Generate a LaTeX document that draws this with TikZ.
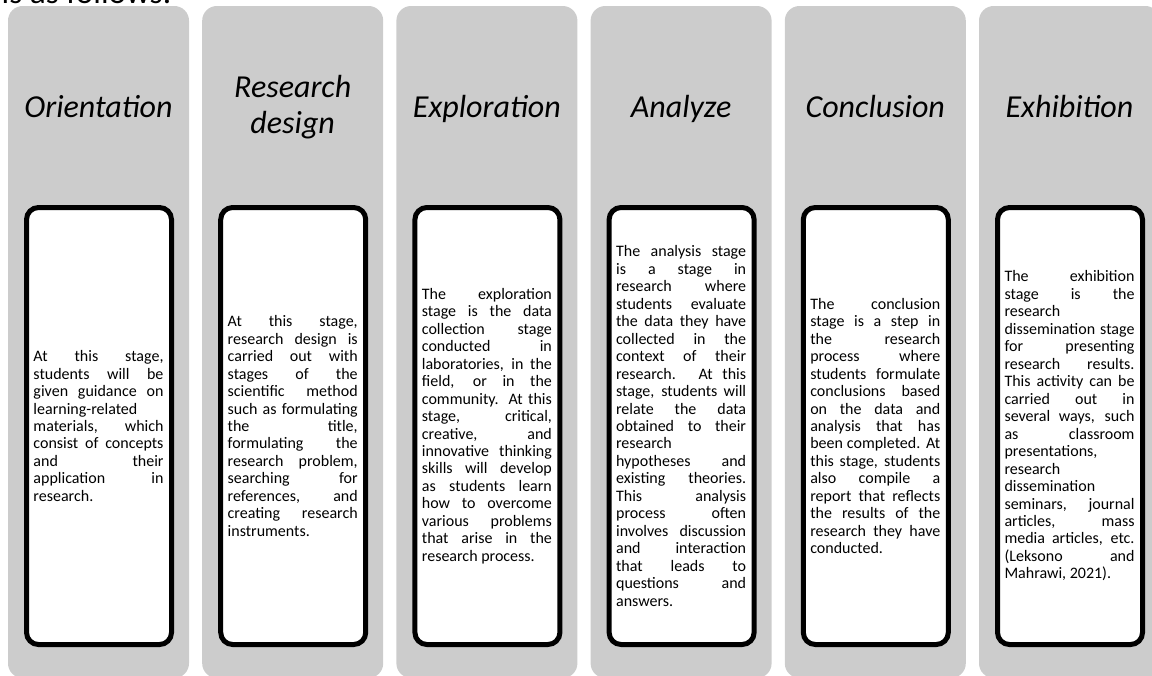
\documentclass[tikz,border=0pt]{standalone}
\usepackage{fontspec}
\setmainfont{Carlito}
\definecolor{stagegray}{HTML}{CCCCCC}

\begin{document}
\begin{tikzpicture}[x=0.75pt,y=-0.75pt,
    stagebox/.style={fill=stagegray, rounded corners=11pt},
    card/.style={draw=black, fill=white, line width=3.75pt, rounded corners=9pt},
    stagetitle/.style={font=\fontsize{24}{26.5}\selectfont\itshape, align=center, inner sep=0pt},
    stagetext/.style={font=\fontsize{12}{13.1}\selectfont, text width=97.5pt, align=justify, inner sep=0pt,
        execute at begin node={\hyphenpenalty=10000 \exhyphenpenalty=10000 \tolerance=10000 \hbadness=10000 }}]
        \useasboundingbox (0,0) rectangle (1152,675);
        %%%COLUMNS%%%
        \foreach \i in {0,...,5}{
            \fill[stagebox] (8+194.2*\i,6) rectangle +(181,672);
            \draw[card] (26.5+194.2*\i,207.5) rectangle +(145,437);
        }
        %cut-off line above
        \node[anchor=base east, inner sep=0pt, font=\fontsize{25}{28}\selectfont] (follows) at (172,3.5) {is as follows:};
        %titles
        \node[stagetitle, anchor=base] (orientation) at (98.5,117) {Orientation};
        \node[stagetitle] (design) at (292.7,107) {Research\\design};
        \node[stagetitle, anchor=base] (exploration) at (486.9,117) {Exploration};
        \node[stagetitle, anchor=base] (analyze) at (681.1,117) {Analyze};
        \node[stagetitle, anchor=base] (conclusion) at (875.3,117) {Conclusion};
        \node[stagetitle, anchor=base] (exhibition) at (1069.5,117) {Exhibition};
        %texts
        \node[stagetext] (orientationtext) at (98.5,426) {At this stage,\linebreak students will be\linebreak given guidance on\linebreak learning-related\linebreak materials, which\linebreak consist of concepts\linebreak and their\linebreak application in\linebreak research.};
        \node[stagetext] (designtext) at (292.7,426) {At this stage,\linebreak research design is\linebreak carried out with\linebreak stages of the\linebreak scientific method\linebreak such as formulating\linebreak the title,\linebreak formulating the\linebreak research problem,\linebreak searching for\linebreak references, and\linebreak creating research\linebreak instruments.};
        \node[stagetext] (explorationtext) at (486.9,426) {The exploration\linebreak stage is the data\linebreak collection stage\linebreak conducted in\linebreak laboratories, in the\linebreak field, or in the\linebreak community. At this\linebreak stage, critical,\linebreak creative, and\linebreak innovative thinking\linebreak skills will develop\linebreak as students learn\linebreak how to overcome\linebreak various problems\linebreak that arise in the\linebreak research process.};
        \node[stagetext] (analyzetext) at (681.1,426) {The analysis stage\linebreak is a stage in\linebreak research where\linebreak students evaluate\linebreak the data they have\linebreak collected in the\linebreak context of their\linebreak research. At this\linebreak stage, students will\linebreak relate the data\linebreak obtained to their\linebreak research\linebreak hypotheses and\linebreak existing theories.\linebreak This analysis\linebreak process often\linebreak involves discussion\linebreak and interaction\linebreak that leads to\linebreak questions and\linebreak answers.};
        \node[stagetext] (conclusiontext) at (875.3,426) {The conclusion\linebreak stage is a step in\linebreak the research\linebreak process where\linebreak students formulate\linebreak conclusions based\linebreak on the data and\linebreak analysis that has\linebreak been completed. At\linebreak this stage, students\linebreak also compile a\linebreak report that reflects\linebreak the results of the\linebreak research they have\linebreak conducted.};
        \node[stagetext] (exhibitiontext) at (1069.5,426) {The exhibition\linebreak stage is the\linebreak research\linebreak dissemination stage\linebreak for presenting\linebreak research results.\linebreak This activity can be\linebreak carried out in\linebreak several ways, such\linebreak as classroom\linebreak presentations,\linebreak research\linebreak dissemination\linebreak seminars, journal\linebreak articles, mass\linebreak media articles, etc.\linebreak (Leksono and\linebreak Mahrawi, 2021).};
    \end{tikzpicture}
\end{document}
